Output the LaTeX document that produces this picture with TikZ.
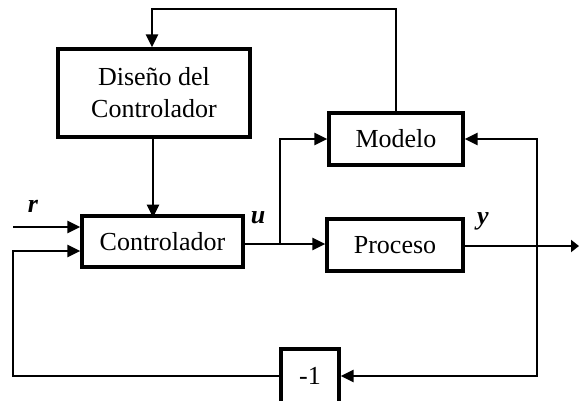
\documentclass[tikz,border=0pt]{standalone}
\usepackage{fontspec}
\setmainfont{Liberation Serif}
\usetikzlibrary{arrows.meta}
\begin{document}
\begin{tikzpicture}[x=1pt,y=-1pt,
  box/.style={draw,line width=3.2pt,inner sep=0pt,align=center,font=\fontsize{26}{32}\selectfont},
  conn/.style={line width=2.4pt},
  arr/.style={conn,-{Triangle[length=13pt,width=12pt]}},
  lbl/.style={font=\fontsize{26}{30}\selectfont\bfseries\itshape}]
\useasboundingbox (0,0) rectangle (579,400);
\node[box,minimum width=192pt,minimum height=88pt] (dis) at (154,93) {Diseño del\\Controlador};
\node[box,minimum width=134pt,minimum height=52pt] (mod) at (396,139) {Modelo};
\node[box,minimum width=161pt,minimum height=51pt] (ctrl) at (162.5,241.5) {Controlador};
\node[box,minimum width=136pt,minimum height=52pt] (prc) at (395,245) {Proceso};
\node[box,minimum width=58pt,minimum height=54pt] (neg) at (310,376) {-1};
\node[lbl] (r) at (33,206) {r};
\node[lbl] (u) at (258,218) {u};
\node[lbl] (y) at (483,221) {y};
\coordinate (tl) at (152,9);
\coordinate (rin) at (13,227);
\coordinate (fbin) at (13,251);
\coordinate (ub) at (280,244);
\coordinate (yb) at (537,246);
\coordinate (yout) at (579,246);
% top feedback
\draw[arr] (mod.north) |- (tl) -- (tl |- dis.north);
% design to controller
\draw[arr] (dis.south -| tl) ++(1,0) -- ++(0,79);
% r input
\draw[arr] (rin) -- (rin -| ctrl.west);
% controller to process
\draw[arr] (ctrl.east |- ub) -- (prc.west |- ub);
\draw[arr] (ub) |- (mod.west);
% output
\draw[conn,-{Triangle[length=8pt,width=12pt]}] (prc.east |- yb) -- (yout);
\draw[arr] (yb) |- (mod.east);
\draw[arr] (yb) |- (neg.east);
% negative feedback
\draw[arr] (neg.west) -| (fbin) -- (fbin -| ctrl.west);
\end{tikzpicture}
\end{document}
